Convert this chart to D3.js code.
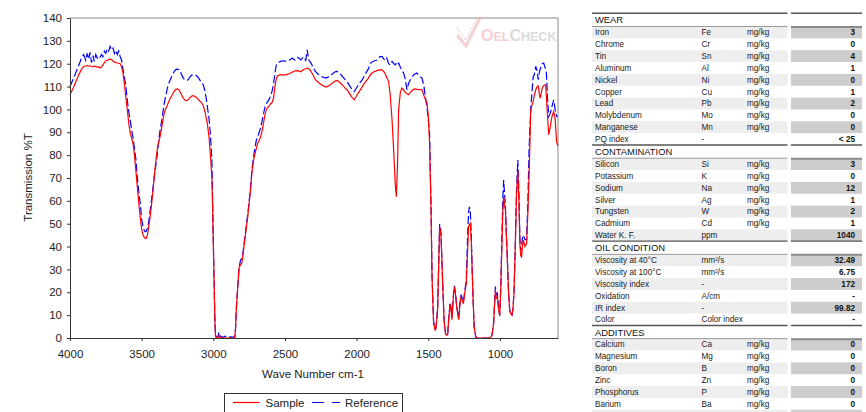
<!DOCTYPE html>
<html><head><meta charset="utf-8">
<script src="https://cdn.jsdelivr.net/npm/d3@7"></script>
<style>
html,body{margin:0;padding:0;background:#fff;}
svg{display:block;font-family:"Liberation Sans",Arial,sans-serif;}
</style></head>
<body><svg id="c" width="866" height="412"></svg>
<script>
// ---------- DATA ----------
const waveNumbers = [4000,3980,3960,3940,3920,3905,3890,3880,3870,3860,3850,3840,3830,3820,3810,3800,3790,3780,3770,3760,3750,3740,3730,3720,3710,3700,3690,3680,3670,3660,3650,3640,3630,3620,3610,3600,3590,3580,3570,3560,3550,3540,3530,3520,3510,3500,3490,3480,3470,3460,3450,3440,3430,3420,3410,3400,3390,3380,3370,3360,3350,3340,3330,3320,3310,3300,3290,3280,3270,3260,3250,3240,3230,3220,3210,3200,3190,3180,3170,3160,3150,3140,3130,3120,3110,3100,3090,3080,3070,3060,3050,3040,3030,3020,3010,3005,3000,2995,2990,2985,2980,2970,2960,2955,2940,2930,2920,2900,2880,2860,2850,2845,2840,2830,2820,2810,2800,2795,2790,2780,2770,2760,2750,2740,2730,2720,2710,2700,2690,2680,2670,2660,2650,2640,2630,2620,2610,2600,2590,2580,2570,2560,2550,2530,2510,2490,2470,2450,2430,2410,2390,2370,2355,2345,2335,2320,2300,2288,2270,2250,2230,2212,2190,2170,2150,2137,2120,2100,2080,2067,2050,2035,2017,2000,1980,1960,1940,1920,1900,1880,1860,1840,1823,1810,1800,1790,1777,1765,1753,1740,1730,1723,1715,1707,1695,1684,1672,1660,1649,1637,1625,1610,1595,1579,1560,1544,1530,1521,1509,1500,1491,1481,1474,1463,1452,1446,1435,1428,1421,1414,1411,1404,1397,1390,1380,1374,1365,1358,1348,1341,1335,1325,1318,1310,1304,1296,1288,1280,1272,1264,1255,1245,1235,1227,1219,1213,1207,1200,1196,1188,1180,1170,1164,1140,1110,1080,1060,1055,1044,1038,1032,1026,1018,1010,1002,995,986,980,974,968,962,956,951,940,932,924,916,909,902,893,884,875,868,861,855,849,843,837,825,814,805,797,790,785,776,768,761,750,741,733,726,719,712,705,695,681,676,668,660,650,637,625,615,605,596];
const sampleValues = [106.4,109,112,115,117.5,118.8,119,119.2,119,119.1,118.8,118.6,119,118.7,118.5,118.6,118.1,118.5,119.5,120.5,121.2,121.5,121.8,122,121.8,121.2,120.8,120.5,120.3,120.2,120,118.5,116,111,105,99.8,94,90,87.5,85,80,73,66,59,53,47.5,45,43.8,43.5,45,49,53.5,59,65,72,78,83,86,88.5,92,96,99,100.5,102,103.5,105,106,107.2,108.2,108.8,109,108.5,107.5,106.2,105,104.2,103.9,104,104.6,105.4,105.9,106,105.8,105.3,104.8,104,103.4,102.8,101.6,99.5,96.5,93,88,80,70,58,41,26.7,10,1,0.2,0,1.2,0.3,0,0,0,0,0,0,0.3,4,12,22,31,32,33,35.5,38,43,48,53,59,65,73,77.5,80.5,83,85.2,86.5,88,90.5,94,97.5,100,100.8,101.5,102.5,103,105,110,113.7,114.8,115.2,115,115.2,115.6,116.3,116.9,117,116.5,117.5,117.8,118.1,117.9,116.8,114.5,113,112,111,110.2,109.8,110.5,111.5,112.4,112.7,112,110.7,109.3,108.6,107,105.5,104.2,106,108,110,112,113.5,115.5,116.5,117,117.3,117.3,116.5,115.5,114,112.2,106,95.4,80,67,61.8,75,99.8,107.5,109.3,108.5,107.5,106.8,106.4,107.5,108.5,109,108.8,108.7,108.6,106,104.5,102.8,97,85.2,56,26.7,6.3,3.5,4.1,12.1,30,48.7,46,44,32,19.5,8,2,1.2,1.5,8,15,12,8,18,22.4,19,15,11,8,14,18,16.5,15,20,23.8,36,48.7,49.5,50.1,42,34,18,4.8,1,0,0,0,0,0.5,1.5,6.3,14,20.9,17.5,18,13,9.5,20,41.4,55,61.8,58,56,46,38.4,20,12.1,10.5,10,13,19.8,40,63.3,73.5,60,41.4,36,35.5,40,42.8,40,41.4,55,70.6,88,99.8,102,103.5,106,108.6,110,110.3,107,105,107,109.3,110.5,110.8,105.6,97,88.9,92,96.9,99.1,96,86,84];
const referenceValues = [110,113,116,119,122.5,124,121.5,124.5,122,125,120.5,123.5,121,124,122.5,123.5,122.8,124,123,125.5,124.5,126.5,125.5,127.6,126,126.8,124.5,125.8,124,125.6,123,121.5,117.5,114,110,104,99,95.4,91,87.5,83,78,70,64,58.9,52,48.5,46.8,46.5,48,51,56,61,66,71.5,76,81,87,91.5,95,99.5,103.5,106.5,109.5,111.5,113,114.5,115.8,116.8,117.5,117.6,117.4,116.5,115,113.8,113,112.7,112.8,113.5,114.4,115,115.2,115.2,114.8,114.3,113.5,112.5,111.5,110.8,108.5,105,100.5,96,89,78,60,42,27,10,1.5,0.5,0.3,2.5,1,0.5,0.3,0.8,0.3,0.5,0.4,0.5,4,12,22,31,34,35,36,39,44,49,54,60,66,74,79,83,86.5,88,90,92,95,98,101,102.5,103.5,104.5,106,108,111,116,119.5,120.5,121,121.3,121,121.5,122.5,121.5,122.8,121.7,123,121.5,126.1,121.7,120.5,118,116.6,115.5,114.5,114,113.7,114.5,115.5,116.5,116.6,116,114.5,113,112.2,110.5,109,107.8,109.5,111.5,113,115.5,117.5,120.5,121.2,121.5,123,123.2,122,121.5,122.5,120,119.5,121,120,119.5,120.3,119.5,120.3,118.5,117,115.9,113,108.6,111.5,113,114.5,115.5,115.9,114.5,113.7,110,105.6,101,95.5,89.6,58,28,7,4,5,13,31,49.9,48,45.5,32,19.5,8,2,1.2,1.5,8,15.5,13,9,18.5,22.8,19.5,15.5,11.5,8.5,15,19,17.5,16,21,25,42,55,57.4,55.5,45,35,18,5,1,0,0,0,0,0.5,1.5,7,15,22.5,19,19.5,13.5,10,21,45,61,69.1,63,58,47,39,20,12,10.5,10,13,20,41,66,77.9,64,44,38,40,44,45,43,43,60,82,93,100.5,108,114.4,115,118.8,117,113,116,117.6,119,120,120.3,117.5,115.9,105,96.9,98,101.3,104.2,100,97,96.9];
const yTicks = [0,10,20,30,40,50,60,70,80,90,100,110,120,130,140];
const xTicks = [4000,3500,3000,2500,2000,1500,1000];
const seriesNames = ["Sample","Reference"];

const wearRows = [
 ["Iron","Fe","mg/kg","3"],["Chrome","Cr","mg/kg","0"],["Tin","Sn","mg/kg","4"],
 ["Aluminum","Al","mg/kg","1"],["Nickel","Ni","mg/kg","0"],["Copper","Cu","mg/kg","1"],
 ["Lead","Pb","mg/kg","2"],["Molybdenum","Mo","mg/kg","0"],["Manganese","Mn","mg/kg","0"],
 ["PQ index","-","","< 25"]];
const contaminationRows = [
 ["Silicon","Si","mg/kg","3"],["Potassium","K","mg/kg","0"],["Sodium","Na","mg/kg","12"],
 ["Silver","Ag","mg/kg","1"],["Tungsten","W","mg/kg","2"],["Cadmium","Cd","mg/kg","1"],
 ["Water K. F.","ppm","","1040"]];
const oilConditionRows = [
 ["Viscosity at 40°C","mm²/s","","32.49"],["Viscosity at 100°C","mm²/s","","6.75"],
 ["Viscosity index","-","","172"],["Oxidation","A/cm","","-"],
 ["IR index","-","","99.82"],["Color","Color index","","-"]];
const additiveRows = [
 ["Calcium","Ca","mg/kg","0"],["Magnesium","Mg","mg/kg","0"],["Boron","B","mg/kg","0"],
 ["Zinc","Zn","mg/kg","0"],["Phosphorus","P","mg/kg","0"],["Barium","Ba","mg/kg","0"],
 ["","","",""]];
const sectionTitles = ["WEAR","CONTAMINATION","OIL CONDITION","ADDITIVES"];

// ---------- CHART ----------
const svg = d3.select("#c");
const x = d3.scaleLinear().domain([4000,595]).range([70,558]);
const y = d3.scaleLinear().domain([0,140]).range([338,18]);

const nPts = Math.min(waveNumbers.length, sampleValues.length, referenceValues.length);
const sampleData = waveNumbers.slice(0,nPts).map((w,i)=>({w, v: sampleValues[i]}));
const refData = waveNumbers.slice(0,nPts).map((w,i)=>({w, v: referenceValues[i]}));

// frame (top/right)
svg.append("path").attr("d",`M${x(4000)},${y(140)}H${x(595)}V${y(0)}`)
  .attr("fill","none").attr("stroke","#8a8a8a").attr("stroke-width",1);

// watermark
const wm = svg.append("g").attr("opacity",0.55);
wm.append("path").attr("d","M458,36 L466,46 L480,18").attr("fill","none")
  .attr("stroke","#f0a8b0").attr("stroke-width",3).attr("stroke-linecap","round");
wm.append("path").attr("d","M457,28 L466,40 L476,20").attr("fill","none")
  .attr("stroke","#c8c8c8").attr("stroke-width",2).attr("stroke-dasharray","1.5,1.5");
const wt = wm.append("text").attr("x",481).attr("y",41).attr("font-weight","bold")
  .attr("font-family","'Liberation Sans',Arial,sans-serif");
wt.append("tspan").text("O").attr("font-size",16).attr("fill","#f0a8b0");
wt.append("tspan").text("EL").attr("font-size",12.5).attr("fill","#f0a8b0");
wt.append("tspan").text("C").attr("font-size",16).attr("fill","#bdbdbd");
wt.append("tspan").text("HECK").attr("font-size",12.5).attr("fill","#bdbdbd");

const line = d3.line().x(d=>x(d.w)).y(d=>y(d.v));
svg.append("path").datum(refData).attr("d",line).attr("fill","none")
  .attr("stroke","#0000ff").attr("stroke-width",1.2).attr("stroke-dasharray","8,3");
svg.append("path").datum(sampleData).attr("d",line).attr("fill","none")
  .attr("stroke","#ff0000").attr("stroke-width",1.2);

// axes
const yAxis = svg.append("g").attr("transform","translate(70,0)")
  .call(d3.axisLeft(y).tickValues(yTicks).tickSize(3).tickSizeOuter(0).tickPadding(5));
const xAxis = svg.append("g").attr("transform","translate(0,338)")
  .call(d3.axisBottom(x).tickValues(xTicks).tickSize(3).tickSizeOuter(0).tickPadding(9).tickFormat(d3.format("d")));
[yAxis,xAxis].forEach(a=>{
  a.selectAll("text").attr("font-size",11.5).attr("fill","#222")
   .attr("font-family","'Liberation Sans',Arial,sans-serif");
  a.selectAll("line").attr("stroke","#333");
  a.select(".domain").attr("stroke","#333");
});

svg.append("text").attr("x",313).attr("y",377.5).attr("text-anchor","middle")
  .attr("font-size",11.5).attr("fill","#222").text("Wave Number cm-1");
svg.append("text").attr("transform","translate(32,177.5) rotate(-90)").attr("text-anchor","middle")
  .attr("font-size",11.5).attr("fill","#222").text("Transmission %T");

// legend
const lg = svg.append("g");
lg.append("rect").attr("x",224.5).attr("y",393.5).attr("width",178).attr("height",30)
  .attr("fill","#fff").attr("stroke","#333").attr("stroke-width",1);
lg.append("line").attr("x1",233).attr("x2",259.5).attr("y1",402.5).attr("y2",402.5)
  .attr("stroke","#ff0000").attr("stroke-width",1.2);
lg.append("text").attr("x",265.5).attr("y",406.5).attr("font-size",11.5).attr("fill","#222").text(seriesNames[0]);
lg.append("line").attr("x1",312).attr("x2",340).attr("y1",402.5).attr("y2",402.5)
  .attr("stroke","#0000ff").attr("stroke-width",1.2).attr("stroke-dasharray","12,8");
lg.append("text").attr("x",345).attr("y",406.5).attr("font-size",11.5).attr("fill","#222").text(seriesNames[1]);

// ---------- TABLE ----------
const sections = [wearRows,contaminationRows,oilConditionRows,additiveRows]
  .map((rows,i)=>({title:sectionTitles[i], rows}));
const tb = svg.append("g");
const L0=592, L1=787.5, R0=791, R1=862;
const rowH=11.85, headH=13.2;
let secTop=13.3;
sections.forEach(sec=>{
  tb.append("line").attr("x1",L0).attr("x2",L1).attr("y1",secTop).attr("y2",secTop).attr("stroke","#555").attr("stroke-width",1.4);
  tb.append("line").attr("x1",R0).attr("x2",R1).attr("y1",secTop).attr("y2",secTop).attr("stroke","#555").attr("stroke-width",1.4);
  tb.append("text").attr("x",595).attr("y",secTop+6.7+3.4).attr("font-size",9.4).attr("fill","#111").text(sec.title);
  let ry = secTop+headH;
  sec.rows.forEach((r,i)=>{
    const shaded = i%2===0;
    if(shaded){
      tb.append("rect").attr("x",L0).attr("y",ry).attr("width",L1-L0).attr("height",rowH).attr("fill","#eeeeee");
      tb.append("rect").attr("x",R0).attr("y",ry).attr("width",R1-R0).attr("height",rowH).attr("fill","#cdcdcd");
    }
    const by = ry+rowH/2+2.9;
    tb.append("text").attr("x",595).attr("y",by).attr("font-size",8.2).attr("fill","#1a1a1a").text(r[0]);
    tb.append("text").attr("x",701.5).attr("y",by).attr("font-size",8.2).attr("fill","#1a1a1a").text(r[1]);
    tb.append("text").attr("x",747).attr("y",by).attr("font-size",8.2).attr("fill","#1a1a1a").text(r[2]);
    tb.append("text").attr("x",855).attr("y",by).attr("font-size",8.2).attr("font-weight","bold")
      .attr("text-anchor","end").attr("fill","#111").text(r[3]);
    ry += rowH;
  });
  tb.append("line").attr("x1",L0).attr("x2",L1).attr("y1",secTop+headH).attr("y2",secTop+headH).attr("stroke","#999").attr("stroke-width",1);
  tb.append("line").attr("x1",R0).attr("x2",R1).attr("y1",secTop+headH+0.5).attr("y2",secTop+headH+0.5).attr("stroke","#8a8a8a").attr("stroke-width",2);
  secTop = ry;
});
</script></body></html>
